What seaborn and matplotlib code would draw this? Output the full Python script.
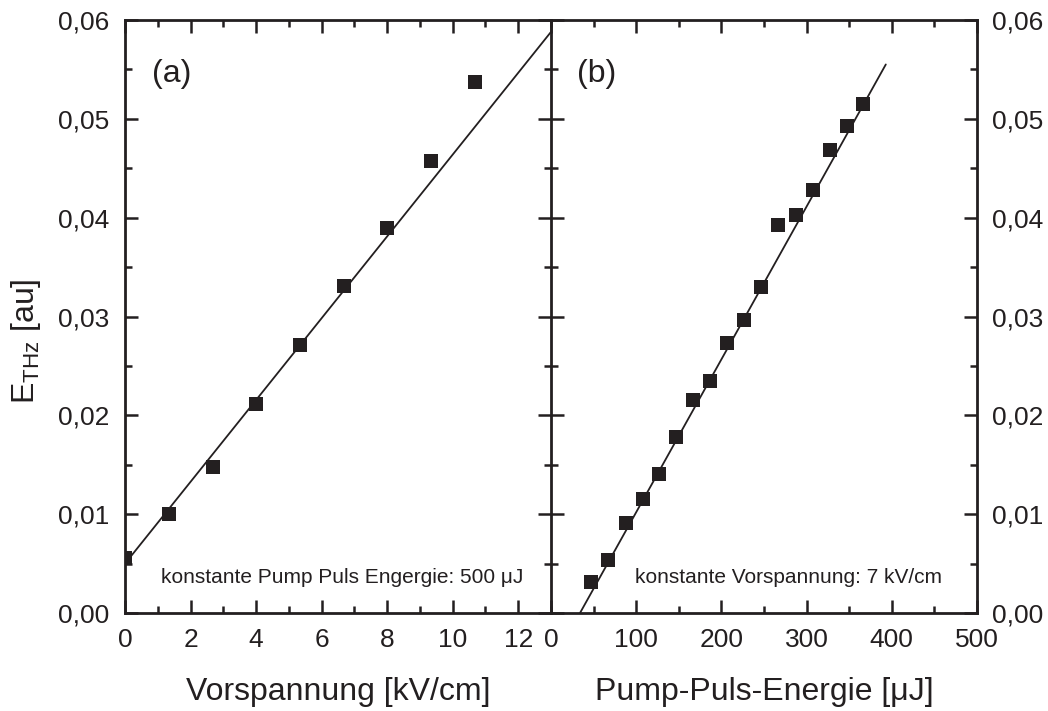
import matplotlib
matplotlib.use("Agg")
import matplotlib.pyplot as plt
from matplotlib.ticker import MultipleLocator, FuncFormatter
import seaborn as sns
import pandas as pd

# ---- data ----
bias_kv = [0.0, 1.33, 2.67, 4.0, 5.33, 6.67, 8.0, 9.33, 10.67]
e_thz_a = [0.0056, 0.0100, 0.0148, 0.0211, 0.0271, 0.0331, 0.0390, 0.0457, 0.0537]
fit_a_x = [0.0, 13.0]
fit_a_y = [0.0050, 0.0588]

pump_uj = [47, 67, 88, 108, 127, 147, 167, 187, 207, 227, 247, 267, 287, 307, 327, 347, 366]
e_thz_b = [0.0031, 0.0054, 0.0091, 0.0115, 0.0141, 0.0178, 0.0216, 0.0235, 0.0273,
           0.0296, 0.0330, 0.0393, 0.0403, 0.0428, 0.0468, 0.0493, 0.0515]
fit_b_x = [34.0, 393.0]
fit_b_y = [0.0, 0.0555]

panel_labels = ["(a)", "(b)"]
notes = ["konstante Pump Puls Engergie: 500 \u03bcJ", "konstante Vorspannung: 7 kV/cm"]
xlabels = ["Vorspannung [kV/cm]", "Pump-Puls-Energie [\u03bcJ]"]
ylabel = r"E$_{\mathregular{THz}}$ [au]"

df_a = pd.DataFrame({"x": bias_kv, "y": e_thz_a})
df_b = pd.DataFrame({"x": pump_uj, "y": e_thz_b})
fa = pd.DataFrame({"x": fit_a_x, "y": fit_a_y})
fb = pd.DataFrame({"x": fit_b_x, "y": fit_b_y})

sns.set_theme(style="ticks")
plt.rcParams["font.family"] = ["Liberation Sans", "DejaVu Sans"]
plt.rcParams["mathtext.default"] = "regular"
plt.rcParams["axes.linewidth"] = 2.0

INK = "#231f20"

fig = plt.figure(figsize=(10.48, 7.11), dpi=100)
fig.patch.set_facecolor("white")
ax_a = fig.add_axes([0.1193, 0.1378, 0.4065, 0.8341])
ax_b = fig.add_axes([0.5258, 0.1378, 0.4064, 0.8341])

yfmt = FuncFormatter(lambda v, p: f"{v:.2f}".replace(".", ","))

for ax, df, fit, xl, lab, note, xlim, maj, mnr, nx in [
    (ax_a, df_a, fa, xlabels[0], panel_labels[0], notes[0], (0, 13), 2, 1, 0.085),
    (ax_b, df_b, fb, xlabels[1], panel_labels[1], notes[1], (0, 500), 100, 50, 0.196),
]:
    ax.set_facecolor("none")
    sns.lineplot(data=fit, x="x", y="y", ax=ax, color=INK, lw=1.3, sort=False)
    sns.scatterplot(data=df, x="x", y="y", ax=ax, marker="s", s=105,
                    color=INK, linewidth=0, zorder=5)
    ax.set_xlim(*xlim)
    ax.set_ylim(0, 0.06)
    ax.xaxis.set_major_locator(MultipleLocator(maj))
    ax.xaxis.set_minor_locator(MultipleLocator(mnr))
    ax.yaxis.set_major_locator(MultipleLocator(0.01))
    ax.yaxis.set_minor_locator(MultipleLocator(0.005))
    ax.yaxis.set_major_formatter(yfmt)
    ax.tick_params(which="both", direction="in", top=True, right=True,
                   bottom=True, left=True, colors=INK, width=1.8)
    ax.tick_params(which="major", length=9.5, labelsize=19, pad=11)
    ax.tick_params(which="minor", length=5)
    for sp in ax.spines.values():
        sp.set_color(INK)
        sp.set_linewidth(2.0)
    ax.set_xlabel(xl, fontsize=23, color=INK, labelpad=18)
    ax.set_ylabel("")
    ax.text(0.064 if ax is ax_a else 0.062, 0.895, lab, transform=ax.transAxes,
            fontsize=23, color=INK, va="baseline", ha="left")
    ax.text(nx, 0.05, note, transform=ax.transAxes, fontsize=15, color=INK,
            va="baseline", ha="left")

ax_b.spines["left"].set_visible(False)
ax_a.set_ylabel(ylabel, fontsize=23, color=INK)
ax_a.yaxis.set_label_coords(-0.193, 0.459)
ax_a.tick_params(axis="y", labelleft=True, labelright=False)
ax_b.tick_params(axis="y", labelleft=False, labelright=True)

fig.savefig("out.png", dpi=100, facecolor="white")
